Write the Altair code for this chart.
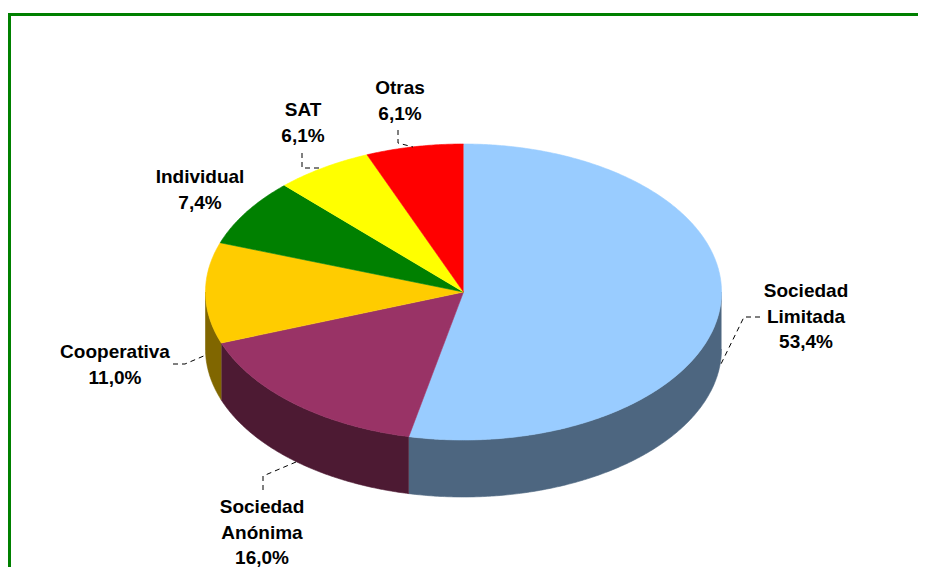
import altair as alt
import numpy as np
import pandas as pd

# ---------------- data ----------------
categories = ["Sociedad Limitada", "Sociedad Anónima", "Cooperativa", "Individual", "SAT", "Otras"]
shares = [53.4, 16.0, 11.0, 7.4, 6.1, 6.1]

# ---------------- styles / layout ----------------
top_colors = ["#99CCFF", "#993366", "#FFCC00", "#008000", "#FFFF00", "#FF0000"]
side_colors = ["#4D6680", "#4D1A33", "#806600", "#004000", "#808000", "#800000"]

# ellipse geometry of the tilted pie (page pixel units)
CX, CY, RX, RY, DEPTH = 463.5, 292.0, 258.0, 148.0, 57.0
W, H = 910, 559

# label anchor positions (first line of text block)
label_x = [806, 262, 115, 200, 303, 400]
label_y = [291, 507, 352, 177, 110, 88]

# leader lines (dashed)
leaders = [
    [(760, 317), (744, 317), (720, 366)],
    [(263, 490), (263, 476), (296, 462)],
    [(173, 364), (185, 364), (206, 355)],
    [],
    [(302, 153), (302, 168), (323, 168)],
    [(398, 130), (398, 143), (413, 147)],
]


def ell(theta_deg, dy=0.0):
    t = np.radians(theta_deg)
    return CX + RX * np.sin(t), CY - RY * np.cos(t) + dy


total = float(sum(shares))
cum = np.concatenate([[0.0], np.cumsum(shares)]) / total * 360.0

top_rows, side_rows = [], []
for i, cat in enumerate(categories):
    a0, a1 = cum[i], cum[i + 1]
    n = max(int((a1 - a0) * 2), 4)
    th = np.linspace(a0, a1, n + 1)
    pts = [(CX, CY)] + [ell(t) for t in th]
    for k, (x, y) in enumerate(pts):
        top_rows.append(dict(cat=cat, poly=f"t{i}", k=k, x=x, y=y, col=top_colors[i]))
    s0, s1 = max(a0, 90.0), min(a1, 270.0)
    if s1 > s0:
        m = max(int((s1 - s0) * 2), 4)
        th = np.linspace(s0, s1, m + 1)
        pts = [ell(t) for t in th] + [ell(t, DEPTH) for t in th[::-1]]
        for k, (x, y) in enumerate(pts):
            side_rows.append(dict(cat=cat, poly=f"s{i}", k=k, x=x, y=y, col=side_colors[i]))

top_df = pd.DataFrame(top_rows)
side_df = pd.DataFrame(side_rows)

lab_df = pd.DataFrame({
    "text": [c.replace(" ", "\n") + "\n" + f"{v:.1f}".replace(".", ",") + "%" for c, v in zip(categories, shares)],
    "x": label_x,
    "y": label_y,
})

lead_rows = []
for i, pts in enumerate(leaders):
    for k, (x, y) in enumerate(pts):
        lead_rows.append(dict(id=i, k=k, x=x, y=y))
lead_df = pd.DataFrame(lead_rows)

xs = alt.Scale(domain=[8, 8 + W], range=[0, W], nice=False, zero=False)
ys = alt.Scale(domain=[8, 8 + H], range=[0, H], nice=False, zero=False)
X = lambda: alt.X("x:Q", scale=xs, axis=None)
Y = lambda: alt.Y("y:Q", scale=ys, axis=None)

sides = alt.Chart(side_df).mark_line(filled=True, strokeWidth=0.6, interpolate="linear").encode(
    x=X(), y=Y(),
    color=alt.Color("col:N", scale=None),
    stroke=alt.Stroke("col:N", scale=None),
    detail="poly:N",
    order=alt.Order("k:Q"),
)

tops = alt.Chart(top_df).mark_line(filled=True, strokeWidth=0.6, interpolate="linear").encode(
    x=X(), y=Y(),
    color=alt.Color("col:N", scale=None),
    stroke=alt.Stroke("col:N", scale=None),
    detail="poly:N",
    order=alt.Order("k:Q"),
)

lead = alt.Chart(lead_df).mark_line(color="black", strokeWidth=1, strokeDash=[5, 4]).encode(
    x=X(), y=Y(), detail="id:N", order=alt.Order("k:Q")
)

labels = alt.Chart(lab_df).mark_text(
    font="Arial", fontWeight="bold", fontSize=19, lineBreak="\n", lineHeight=25.5,
    align="center", baseline="middle", color="black",
).encode(x=X(), y=Y(), text="text:N")

border = alt.Chart(pd.DataFrame({"a": [0]})).mark_rect(
    fillOpacity=0, stroke="#008000", strokeWidth=3
).encode(x=alt.value(1.5), x2=alt.value(1500), y=alt.value(6.5), y2=alt.value(1500))

chart = alt.layer(border, sides, tops, lead, labels).properties(
    width=W, height=H, padding=0, autosize=alt.AutoSizeParams(type="none")
).configure_view(strokeWidth=0)

chart.save("out.html", embed_options={"renderer": "svg", "actions": False})
